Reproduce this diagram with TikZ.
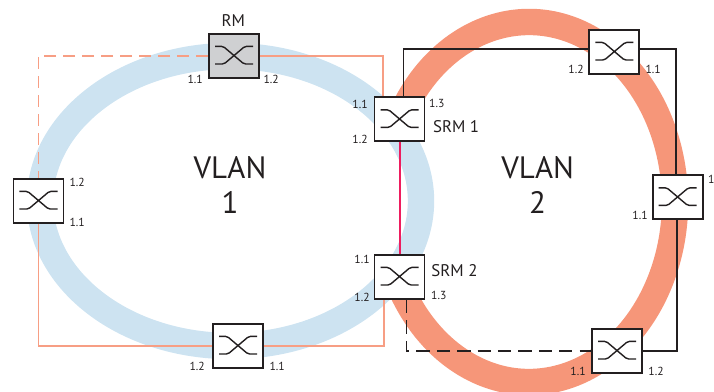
\documentclass[tikz,border=0pt]{standalone}
\usepackage{fontspec}
\setmainfont{PT Sans}
\definecolor{ringblue}{HTML}{CDE3F1}
\definecolor{ringred}{HTML}{F69679}
\definecolor{linksalmon}{HTML}{F79E84}
\definecolor{linkred}{HTML}{EE1C5E}
\definecolor{inkgray}{HTML}{231F20}
\definecolor{rmgray}{HTML}{CFD0D2}
\begin{document}
\begin{tikzpicture}[
            switchbox/.style={draw=inkgray, fill=white, line width=1.4pt, minimum width=1.25cm,
                    minimum height=1.1cm, inner sep=0pt, path picture={
                        \draw[line width=1pt, rounded corners=1.2pt, draw=inkgray, shift={(path picture bounding box.center)}]
                            (-0.475,0.24) -- (-0.27,0.24) -- (0.25,-0.2) -- (0.475,-0.2)
                            (-0.475,-0.2) -- (-0.25,-0.2) -- (0.27,0.24) -- (0.475,0.24);
                    }},
            portlabel/.style={font=\fontsize{8.3}{10}\selectfont, text=inkgray, inner sep=0pt},
            namelabel/.style={font=\fontsize{12}{15}\selectfont, text=inkgray, inner sep=0pt},
            vlanlabel/.style={font=\fontsize{22}{25}\selectfont, text=inkgray, align=center, inner sep=0pt},
            ring/.style={line width=0.66cm},
            salmonlink/.style={draw=linksalmon, line width=1.1pt},
            blacklink/.style={draw=inkgray, line width=1.1pt},
            couplelink/.style={draw=linkred, line width=1.5pt}
        ]
        \clip (0,0) rectangle (17.85,9.775);

        % the two rings
        \coordinate (ringone) at (5.7625,4.75);
        \coordinate (ringtwo) at (13.225,4.725);
        \draw[ring, draw=ringblue] (ringone) ellipse [x radius=4.7625, y radius=3.625];
        \draw[ring, draw=ringred] ([shift={(153:3.65 and 4.5)}]ringtwo) arc [start angle=153, end angle=-153, x radius=3.65, y radius=4.5];

        % switches
        \node[switchbox, fill=rmgray] (rm) at (5.85,8.375) {};
        \node[switchbox] (left) at (0.9625,4.75) {};
        \node[switchbox] (bottom) at (5.95,1.125) {};
        \node[switchbox] (srma) at (9.9875,6.79) {};
        \node[switchbox] (srmb) at (9.9875,2.85) {};
        \node[switchbox] (topright) at (15.36,8.475) {};
        \node[switchbox] (right) at (16.94,4.84) {};
        \node[switchbox] (botright) at (15.425,1.0) {};

        % redundant coupling
        \draw[couplelink] ([xshift=0.02cm]srma.south) -- ([xshift=0.02cm]srmb.north);

        % VLAN 1 links
        \draw[salmonlink, dash pattern=on 8.5pt off 5pt] (rm.west) -| (left.north);
        \draw[salmonlink] (rm.east) -| ([xshift=-0.41cm]srma.north);
        \draw[salmonlink] (left.south) |- (bottom.west);
        \draw[salmonlink] (bottom.east) -| ([xshift=-0.39cm]srmb.south);

        % VLAN 2 links
        \draw[blacklink] ([xshift=0.1cm]srma.north) |- ([yshift=0.075cm]topright.west);
        \draw[blacklink] ([yshift=0.075cm]topright.east) -| ([xshift=-0.04cm]right.north);
        \draw[blacklink] ([xshift=-0.02cm]right.south) |- (botright.east);
        \draw[blacklink, dash pattern=on 9.5pt off 5pt] ([xshift=0.17cm]srmb.south) |- (botright.west);

        % names
        \node[namelabel] (rmname) at (5.83,9.27) {RM};
        \node[namelabel, anchor=west] (srmaname) at (10.82,6.6) {SRM 1};
        \node[namelabel, anchor=west] (srmbname) at (10.78,3.0) {SRM 2};
        \node[vlanlabel] (vlanone) at (5.75,5.14) {VLAN\\1};
        \node[vlanlabel] (vlantwo) at (13.44,5.14) {VLAN\\2};

        % port numbers
        \node[portlabel] (rmp1) at (4.88,7.8) {1.1};
        \node[portlabel] (rmp2) at (6.78,7.8) {1.2};
        \node[portlabel] (leftp2) at (1.93,5.22) {1.2};
        \node[portlabel] (leftp1) at (1.93,4.22) {1.1};
        \node[portlabel] (bottomp2) at (4.93,0.62) {1.2};
        \node[portlabel] (bottomp1) at (6.93,0.62) {1.1};
        \node[portlabel] (srmap1) at (9.0,7.17) {1.1};
        \node[portlabel] (srmap2) at (9.0,6.3) {1.2};
        \node[portlabel] (srmap3) at (10.92,7.2) {1.3};
        \node[portlabel] (srmbp1) at (9.05,3.3) {1.1};
        \node[portlabel] (srmbp2) at (9.05,2.35) {1.2};
        \node[portlabel] (srmbp3) at (10.97,2.4) {1.3};
        \node[portlabel] (toprightp2) at (14.4,8.05) {1.2};
        \node[portlabel] (toprightp1) at (16.33,8.05) {1.1};
        \node[portlabel] (rightp2) at (17.89,5.28) {1.2};
        \node[portlabel] (rightp1) at (16.0,4.38) {1.1};
        \node[portlabel] (botrightp1) at (14.45,0.5) {1.1};
        \node[portlabel] (botrightp2) at (16.4,0.5) {1.2};
    \end{tikzpicture}
\end{document}
